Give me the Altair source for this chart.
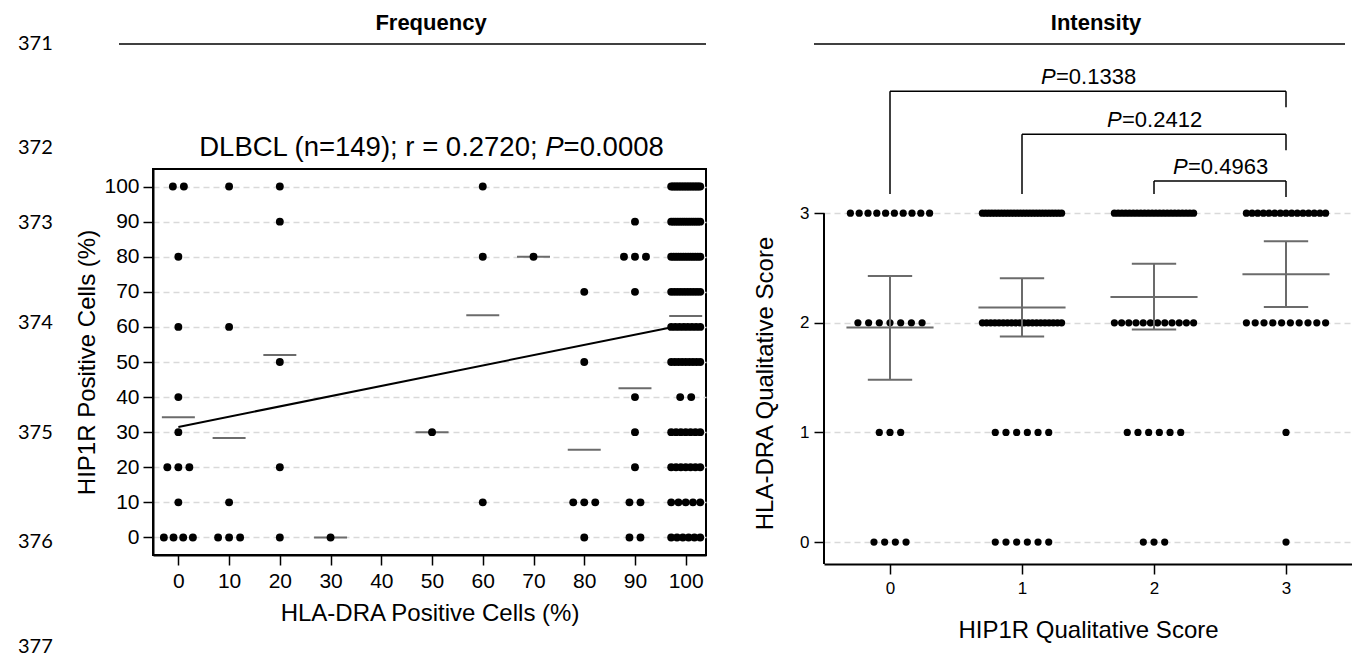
import altair as alt
import pandas as pd

# ---------------- data: left panel (Frequency) ----------------
# HLA-DRA positive cells (%) per case group, HIP1R positive cells (%), number of cases
FREQ_HLA = [0, 0, 0, 0, 0, 0, 0, 0,
            10, 10, 10, 10,
            20, 20, 20, 20, 20,
            30,
            50,
            60, 60, 60,
            70,
            80, 80, 80, 80,
            90, 90, 90, 90, 90, 90, 90, 90,
            100, 100, 100, 100, 100, 100, 100, 100, 100, 100, 100]
FREQ_HIP = [100, 80, 60, 40, 30, 20, 10, 0,
            100, 60, 10, 0,
            100, 90, 50, 20, 0,
            0,
            30,
            100, 80, 10,
            80,
            70, 50, 10, 0,
            90, 80, 70, 40, 30, 20, 10, 0,
            100, 90, 80, 70, 60, 50, 40, 30, 20, 10, 0]
FREQ_N = [2, 1, 1, 1, 1, 3, 1, 4,
          1, 1, 1, 3,
          1, 1, 1, 1, 1,
          1,
          1,
          1, 1, 1,
          1,
          1, 1, 3, 1,
          1, 3, 1, 1, 1, 1, 2, 2,
          19, 14, 13, 10, 8, 9, 2, 7, 7, 5, 6]
FREQ_TICKS = [0, 10, 20, 30, 40, 50, 60, 70, 80, 90, 100]
REG_X = [0, 100]
REG_Y = [31.5, 60.7]

# ---------------- data: right panel (Intensity) ----------------
INT_HIP = [0, 0, 0, 0, 1, 1, 1, 1, 2, 2, 2, 2, 3, 3, 3, 3]
INT_HLA = [3, 2, 1, 0, 3, 2, 1, 0, 3, 2, 1, 0, 3, 2, 1, 0]
INT_N = [10, 7, 3, 4, 26, 20, 6, 6, 22, 12, 6, 3, 15, 10, 1, 1]
INT_GROUP = [0, 1, 2, 3]
INT_MEAN = [1.958, 2.139, 2.236, 2.443]
INT_LO = [1.480, 1.876, 1.939, 2.145]
INT_HI = [2.427, 2.406, 2.539, 2.743]
INT_TICKS = [0, 1, 2, 3]
BR_FROM = [0, 1, 2]
BR_TO = [3, 3, 3]
BR_P = ["=0.1338", "=0.2412", "=0.4963"]

# ---------------- layout / style ----------------
FONT = "Liberation Sans, Arial, sans-serif"
NARROW = "Liberation Sans Narrow, Liberation Sans, Arial, sans-serif"
LINENUM_FONT = "Lato, Liberation Sans, sans-serif"
GRAY = "#6b6b6b"
GRID = "#d9d9d9"
WL, HL = 553, 386
WR, HR = 528, 395
BR_LEVEL = [4.112, 3.721, 3.294]
ONE = pd.DataFrame({"k": [0]})


def spread(n, step, half):
    if n <= 1:
        return [0.0]
    s = min(step, 2 * half / (n - 1))
    return [(i - (n - 1) / 2) * s for i in range(n)]


def txt(s, px, py, size, font=FONT, weight="normal", style="normal", align="center", baseline="middle"):
    return alt.Chart(ONE).mark_text(
        font=font, fontSize=size, fontWeight=weight, fontStyle=style, align=align,
        baseline=baseline, color="black"
    ).encode(x=alt.value(px), y=alt.value(py), text=alt.value(s))


def hline(x1, x2, py, w=1.5):
    return alt.Chart(ONE).mark_rule(color="black", strokeWidth=w).encode(
        x=alt.value(x1), x2=alt.value(x2), y=alt.value(py))


axis_style = dict(labelFont=FONT, titleFont=FONT, labelColor="black", titleColor="black",
                  domainColor="black", domainWidth=2, tickColor="black", tickWidth=1.5,
                  titleFontWeight="normal")

# ----- left panel -----
rows = []
for hx, hy, n in zip(FREQ_HLA, FREQ_HIP, FREQ_N):
    for off in spread(n, 2.17, 2.86):
        rows.append({"hla": hx, "hip": hy, "xp": hx + off})
freq_pts = pd.DataFrame(rows)
freq_mean = freq_pts.groupby("hla", as_index=False)["hip"].mean()
reg = pd.DataFrame({"x": REG_X, "y": REG_Y})

XL = alt.Scale(domain=[-5, 104], nice=False, zero=False)
YL = alt.Scale(domain=[-5, 105], nice=False, zero=False)
AXL_X = alt.Axis(values=FREQ_TICKS, title="HLA-DRA Positive Cells (%)", grid=False, labelFontSize=21,
                 titleFontSize=24, tickSize=10, labelPadding=5, titlePadding=10, **axis_style)
AXL_Y = alt.Axis(values=FREQ_TICKS, title="HIP1R Positive Cells (%)", grid=True, gridDash=[6, 4],
                 gridColor=GRID, gridWidth=1.5, labelFontSize=21, titleFontSize=24, tickSize=10,
                 labelPadding=4, titlePadding=4, **axis_style)

pts_l = alt.Chart(freq_pts).mark_circle(size=62, color="black", opacity=1).encode(
    x=alt.X("xp:Q", scale=XL, axis=AXL_X),
    y=alt.Y("hip:Q", scale=YL, axis=AXL_Y),
)
mean_l = alt.Chart(freq_mean).transform_calculate(
    x1="datum.hla - 3.25", x2="datum.hla + 3.25"
).mark_rule(color=GRAY, strokeWidth=2).encode(
    x=alt.X("x1:Q", scale=XL, axis=AXL_X), x2="x2:Q", y=alt.Y("hip:Q", scale=YL, axis=AXL_Y))
reg_l = alt.Chart(reg).mark_line(color="black", strokeWidth=2).encode(
    x=alt.X("x:Q", scale=XL, axis=AXL_X), y=alt.Y("y:Q", scale=YL, axis=AXL_Y))

left_layers = [reg_l, mean_l, pts_l,
               txt("Frequency", 278, -146, 22, font=NARROW, weight="bold"),
               hline(-34, 553, -125),
               txt("DLBCL (n=149); r = 0.2720;", 384.6, -21, 27.5, align="right"),
               txt("P", 392.3, -21, 27.5, style="italic", align="left"),
               txt("=0.0008", 410.6, -21, 27.5, align="left")]
for lab, py in zip(["371", "372", "373", "374", "375", "376", "377"],
                   [-125, -21, 54, 154, 264, 373, 478]):
    left_layers.append(txt(lab, -135, py, 20, font=LINENUM_FONT, align="left"))

left = alt.layer(*left_layers).properties(
    width=WL, height=HL, view=alt.ViewBackground(stroke="black", strokeWidth=2))

# ----- right panel -----
rows = []
for gx, gy, n in zip(INT_HIP, INT_HLA, INT_N):
    for off in spread(n, 0.081, 0.30):
        rows.append({"hip": gx, "hla": gy, "xp": gx + off})
int_pts = pd.DataFrame(rows)
summ = pd.DataFrame({"g": INT_GROUP, "m": INT_MEAN, "lo": INT_LO, "hi": INT_HI})
br = pd.DataFrame({"a": BR_FROM, "b": BR_TO, "lev": BR_LEVEL, "p": BR_P})

XR = alt.Scale(domain=[-0.5, 3.5], nice=False, zero=False)
YR = alt.Scale(domain=[-0.2, 3.403], nice=False, zero=False)
AXR_X = alt.Axis(values=INT_TICKS, title="HIP1R Qualitative Score", grid=False, labelFontSize=17,
                 titleFontSize=24, tickSize=10, labelPadding=6, titlePadding=22, format="d", **axis_style)
AXR_Y = alt.Axis(values=INT_TICKS, title="HLA-DRA Qualitative Score", grid=True, gridDash=[6, 4],
                 gridColor=GRID, gridWidth=1.5, labelFontSize=17, titleFontSize=24, tickSize=10,
                 labelPadding=5, titlePadding=22, titleY=214, domain=False, format="d", **axis_style)

pts_r = alt.Chart(int_pts).mark_circle(size=52, color="black", opacity=1).encode(
    x=alt.X("xp:Q", scale=XR, axis=AXR_X),
    y=alt.Y("hla:Q", scale=YR, axis=AXR_Y),
)
ydom_r = alt.Chart(ONE).mark_rule(color="black", strokeWidth=2).encode(
    x=alt.value(0), y=alt.Y(datum=3, scale=YR, axis=AXR_Y), y2=alt.Y2(datum=-0.2))
mean_r = alt.Chart(summ).transform_calculate(
    x1="datum.g - 0.33", x2="datum.g + 0.33").mark_rule(color=GRAY, strokeWidth=2).encode(
    x=alt.X("x1:Q", scale=XR, axis=AXR_X), x2="x2:Q", y=alt.Y("m:Q", scale=YR, axis=AXR_Y))
ci_r = alt.Chart(summ).mark_rule(color=GRAY, strokeWidth=2).encode(
    x=alt.X("g:Q", scale=XR, axis=AXR_X), y=alt.Y("lo:Q", scale=YR, axis=AXR_Y), y2="hi:Q")
caps_r = alt.Chart(summ).transform_fold(["lo", "hi"], as_=["which", "v"]).transform_calculate(
    x1="datum.g - 0.168", x2="datum.g + 0.168").mark_rule(color=GRAY, strokeWidth=2).encode(
    x=alt.X("x1:Q", scale=XR, axis=AXR_X), x2="x2:Q", y=alt.Y("v:Q", scale=YR, axis=AXR_Y))

br_h = alt.Chart(br).mark_rule(color="black", strokeWidth=1.5).encode(
    x=alt.X("a:Q", scale=XR, axis=AXR_X), x2="b:Q", y=alt.Y("lev:Q", scale=YR, axis=AXR_Y))
br_l = alt.Chart(br).transform_calculate(bot="3.175").mark_rule(color="black", strokeWidth=1.5).encode(
    x=alt.X("a:Q", scale=XR, axis=AXR_X), y=alt.Y("lev:Q", scale=YR, axis=AXR_Y), y2="bot:Q")
br_r = alt.Chart(br).transform_calculate(bot="datum.lev - 0.146").mark_rule(
    color="black", strokeWidth=1.5).encode(
    x=alt.X("b:Q", scale=XR, axis=AXR_X), y=alt.Y("lev:Q", scale=YR, axis=AXR_Y), y2="bot:Q")
br_tp = alt.Chart(br).transform_calculate(c="(datum.a + datum.b) / 2", ty="datum.lev + 0.065").mark_text(
    font=FONT, fontSize=22, fontStyle="italic", align="left", baseline="alphabetic", dx=-47,
    color="black").encode(
    x=alt.X("c:Q", scale=XR, axis=AXR_X), y=alt.Y("ty:Q", scale=YR, axis=AXR_Y), text=alt.value("P"))
br_tv = alt.Chart(br).transform_calculate(c="(datum.a + datum.b) / 2", ty="datum.lev + 0.065").mark_text(
    font=FONT, fontSize=22, align="left", baseline="alphabetic", dx=-32, color="black").encode(
    x=alt.X("c:Q", scale=XR, axis=AXR_X), y=alt.Y("ty:Q", scale=YR, axis=AXR_Y), text="p:N")

right = alt.layer(
    pts_r, ydom_r, mean_r, ci_r, caps_r, br_h, br_l, br_r, br_tp, br_tv,
    txt("Intensity", 272, -146, 22, font=NARROW, weight="bold"),
    hline(-10, 521, -125),
).properties(width=WR, height=HR, view=alt.ViewBackground(strokeWidth=0, stroke="transparent"))

chart = alt.hconcat(left, right, spacing=118, bounds="flush").properties(
    padding={"left": 17, "top": 11, "right": 0, "bottom": 0}
).configure(font=FONT, background="white")

chart.save("out.html", embed_options={"renderer": "svg", "actions": False})
